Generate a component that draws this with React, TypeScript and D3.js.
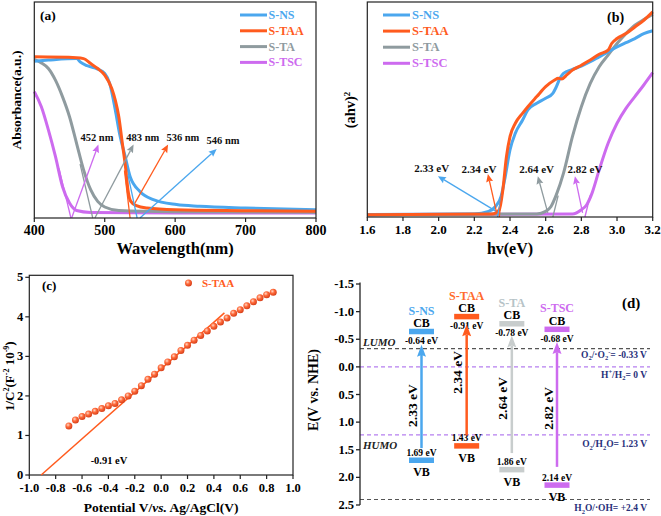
import React from 'react';
import * as d3 from 'd3';

type P = [number, number];

const FONT = "'Liberation Serif', 'Times New Roman', serif";
const SERIES = ['S-NS', 'S-TAA', 'S-TA', 'S-TSC'];
const COLORS = ['#4ba7ee', '#ff5b1e', '#8f9b9f', '#cd6bef'];

// ---------- (a) UV-vis absorbance ----------
const absNS: P[] = [[400, 72.6], [420, 73.1], [460, 73.8], [465, 72.3], [475, 70.5], [490, 68.9], [500, 66.9], [507, 62.3], [515, 50], [521, 39.2], [529, 28.5], [536, 19.2], [550, 12.3], [569, 8.5], [602, 6.2], [635, 5.4], [700, 4.6], [800, 3.8]];
const absTAA: P[] = [[400, 74.6], [460, 74.2], [470, 73.8], [480, 71.5], [490, 69.2], [500, 66.2], [510, 60], [515, 54.6], [520, 46.9], [525, 34.6], [530, 22.3], [533, 13], [537, 7.7], [545, 5.7], [560, 4.6], [600, 3.8], [700, 3.4], [800, 3.1]];
const absTA: P[] = [[400, 73.4], [410, 71.8], [420, 69.2], [430, 63.8], [440, 56.2], [450, 46.9], [460, 34.6], [470, 22.3], [480, 13.1], [490, 7.7], [500, 5.1], [520, 3.5], [600, 2.9], [800, 2.6]];
const absTSC: P[] = [[400, 58.5], [410, 51.5], [420, 40.8], [430, 28.5], [440, 14.6], [450, 6.9], [460, 3.5], [480, 2.6], [600, 2.3], [800, 2.3]];
const absSeries = [absNS, absTAA, absTA, absTSC];
const absEdgeLabels = ['546 nm', '536 nm', '483 nm', '452 nm'];
const absEdges = [546, 536, 483, 452];
const absTangentTop: P[] = [[533, 20], [528, 22], [465, 25], [435, 23]];
const absArrowFrom: P[] = [[550, 0], [543, 7], [486, 0], [453, 0]];
const absArrowTo: P[] = [[659, 32], [590, 34], [541, 34], [491, 34]];
const absLabelAt: P[] = [[668, 36], [611, 37.5], [554, 37.5], [489, 37.5]];
const absTicks = [400, 500, 600, 700, 800];

// ---------- (b) Tauc plot ----------
const taucNS: P[] = [[1.6, 1.1], [2.2, 1.4], [2.28, 2.6], [2.32, 5], [2.35, 9.6], [2.37, 17.3], [2.4, 31.2], [2.43, 39], [2.47, 45], [2.5, 49.8], [2.55, 52.9], [2.6, 55.2], [2.64, 57.5], [2.66, 60.6], [2.68, 64.5], [2.7, 66.8], [2.75, 68.6], [2.8, 70.2], [2.85, 72.2], [2.9, 74.5], [2.95, 76.8], [3.0, 79.1], [3.05, 81.1], [3.1, 83], [3.15, 85.3], [3.2, 86.6]];
const taucTAA: P[] = [[1.6, 1.1], [2.3, 1.4], [2.34, 3.4], [2.36, 12.7], [2.38, 28], [2.4, 37.4], [2.43, 43.6], [2.47, 48.2], [2.5, 51.3], [2.55, 56], [2.6, 60.6], [2.65, 63.7], [2.67, 64.5], [2.69, 64.2], [2.72, 66.2], [2.75, 68.3], [2.8, 70.6], [2.85, 73], [2.9, 75.7], [2.95, 77.6], [2.97, 80.7], [3.0, 83], [3.05, 85.3], [3.1, 88.4], [3.15, 91.5], [3.2, 95.4]];
const taucTA: P[] = [[1.6, 1.1], [2.55, 1.4], [2.6, 2.6], [2.63, 4.9], [2.66, 10.4], [2.7, 20.4], [2.75, 37.4], [2.8, 51.3], [2.85, 62.1], [2.9, 69.9], [2.95, 75.3], [3.0, 80.7], [3.05, 85.3], [3.1, 89.2], [3.15, 91.8], [3.2, 94.3]];
const taucTSC: P[] = [[1.6, 1.1], [2.75, 1.4], [2.8, 3.4], [2.83, 5.7], [2.86, 11.1], [2.9, 21.9], [2.95, 34.3], [3.0, 43.6], [3.05, 50.5], [3.1, 56], [3.15, 61.4], [3.2, 67.1]];
const taucSeries = [taucNS, taucTAA, taucTA, taucTSC];
const gapLabels = ['2.33 eV', '2.34 eV', '2.64 eV', '2.82 eV'];
const gapEdges = [2.33, 2.34, 2.64, 2.82];
const gapTangentTop: P[] = [[2.352, 10], [2.353, 10], [2.67, 10], [2.85, 10]];
const gapArrowFrom: P[] = [[2.325, 2.5], [2.325, 1.9], [2.612, 1.9], [2.807, 1.9]];
const gapArrowTo: P[] = [[1.996, 19], [2.276, 20], [2.556, 19], [2.764, 19]];
const gapLabelAt: P[] = [[1.961, 22.8], [2.226, 22.3], [2.549, 22.3], [2.82, 22.3]];
const taucTicks = [1.6, 1.8, 2.0, 2.2, 2.4, 2.6, 2.8, 3.0, 3.2];

// ---------- (c) Mott-Schottky ----------
const potentials = [-0.7, -0.65, -0.6, -0.55, -0.5, -0.45, -0.4, -0.35, -0.3, -0.25, -0.2, -0.15, -0.1, -0.05, 0, 0.05, 0.1, 0.15, 0.2, 0.25, 0.3, 0.35, 0.4, 0.45, 0.5, 0.55, 0.6, 0.65, 0.7, 0.75, 0.8, 0.85];
const invC2 = [1.24, 1.39, 1.48, 1.54, 1.61, 1.68, 1.75, 1.81, 1.9, 2.0, 2.12, 2.26, 2.42, 2.55, 2.71, 2.86, 2.99, 3.15, 3.28, 3.41, 3.53, 3.64, 3.76, 3.87, 3.97, 4.09, 4.18, 4.28, 4.38, 4.48, 4.56, 4.62];
const fitLine: P[] = [[-0.91, 0], [0.48, 4.1]];
const msXTicks = [-1.0, -0.8, -0.6, -0.4, -0.2, 0.0, 0.2, 0.4, 0.6, 0.8, 1.0];
const msYTicks = [0, 1, 2, 3, 4, 5];

// ---------- (d) band structure ----------
const cbValues = [-0.64, -0.91, -0.78, -0.68];
const vbValues = [1.69, 1.43, 1.86, 2.14];
const bandArrowFrom = [1.47, 1.24, 1.56, 1.81];
const bandArrowTo = [-0.4, -0.77, -0.57, -0.45];
const bandGapLabelAt = [0.7, 0.1, 0.57, 0.75];
const bandTicks = [-1.5, -1.0, -0.5, 0.0, 0.5, 1.0, 1.5, 2.0, 2.5];
const bandColors = ['#4ba7ee', '#ff5b1e', '#c8cdcd', '#cd6bef'];
const bandNameColors = ['#4ba7ee', '#ff6a2c', '#b6c3c7', '#cd6bef'];
const redoxLevels = [-0.33, 0, 1.23, 2.4];
const redoxColors = ['#555555', '#b57ff0', '#b57ff0', '#555555'];

function Arrow({ x1, y1, x2, y2, color, w, hl, hw }: { x1: number; y1: number; x2: number; y2: number; color: string; w: number; hl: number; hw: number }) {
  const dx = x2 - x1, dy = y2 - y1;
  const len = Math.sqrt(dx * dx + dy * dy);
  const ux = dx / len, uy = dy / len;
  const bx = x2 - ux * hl * 0.85, by = y2 - uy * hl * 0.85;
  const hx = x2 - ux * hl, hy = y2 - uy * hl;
  const px = -uy, py = ux;
  const pts = [[x2, y2], [hx + px * hw / 2, hy + py * hw / 2], [bx, by], [hx - px * hw / 2, hy - py * hw / 2]];
  return (
    <g>
      <line x1={x1} y1={y1} x2={bx} y2={by} stroke={color} strokeWidth={w} />
      <polygon points={pts.map(p => p.join(',')).join(' ')} fill={color} />
    </g>
  );
}

function PanelA() {
  const x = d3.scaleLinear().domain([400, 800]).range([34.3, 316]);
  const y = d3.scaleLinear().domain([0, 100]).range([218, 2]);
  const line = d3.line<P>().x(d => x(d[0])).y(d => y(d[1])).curve(d3.curveMonotoneX);
  const order = [3, 2, 0, 1];
  return (
    <g>
      {order.map(i => (
        <path key={i} d={line(absSeries[i]) || ''} fill="none" stroke={COLORS[i]} strokeWidth={3} />
      ))}
      {absEdges.map((e, i) => (
        <line key={'t' + i} x1={x(e)} y1={y(0)} x2={x(absTangentTop[i][0])} y2={y(absTangentTop[i][1])} stroke={COLORS[i]} strokeWidth={1.3} />
      ))}
      {absEdges.map((e, i) => (
        <Arrow key={'a' + i} x1={x(absArrowFrom[i][0])} y1={y(absArrowFrom[i][1])} x2={x(absArrowTo[i][0])} y2={y(absArrowTo[i][1])} color={COLORS[i]} w={1.3} hl={8} hw={7} />
      ))}
      {absEdgeLabels.map((t, i) => (
        <text key={'l' + i} x={x(absLabelAt[i][0])} y={y(absLabelAt[i][1])} textAnchor="middle" dominantBaseline="central" fontSize={10.5} fontWeight="bold" fill="#111">{t}</text>
      ))}
      <rect x={x(400)} y={y(100)} width={x(800) - x(400)} height={y(0) - y(100)} fill="none" stroke="#222" strokeWidth={1.2} />
      {absTicks.map(t => (
        <g key={t}>
          <line x1={x(t)} x2={x(t)} y1={y(0)} y2={y(0) + 4} stroke="#222" strokeWidth={1.2} />
          <text x={x(t)} y={y(0) + 17} textAnchor="middle" fontSize={14} fontWeight="bold">{t}</text>
        </g>
      ))}
      <text x={(x(400) + x(800)) / 2} y={254} textAnchor="middle" fontSize={16.5} fontWeight="bold">Wavelength(nm)</text>
      <text transform={`translate(21,${(y(0) + y(100)) / 2 - 10}) rotate(-90)`} textAnchor="middle" fontSize={13.5} fontWeight="bold">Absorbance(a.u.)</text>
      <text x={40} y={20} fontSize={13.5} fontWeight="bold">(a)</text>
      {SERIES.map((s, i) => (
        <g key={s}>
          <line x1={240} x2={267} y1={15 + i * 15.8} y2={15 + i * 15.8} stroke={COLORS[i]} strokeWidth={3} />
          <text x={268.5} y={15 + i * 15.8} dominantBaseline="central" fontSize={12} fontWeight="bold" fill={COLORS[i]}>{s}</text>
        </g>
      ))}
    </g>
  );
}

function PanelB() {
  const x = d3.scaleLinear().domain([1.6, 3.2]).range([367.3, 652.7]);
  const y = d3.scaleLinear().domain([0, 100]).range([217, 2]);
  const line = d3.line<P>().x(d => x(d[0])).y(d => y(d[1])).curve(d3.curveMonotoneX);
  const order = [3, 2, 0, 1];
  return (
    <g>
      {order.map(i => (
        <path key={i} d={line(taucSeries[i]) || ''} fill="none" stroke={COLORS[i]} strokeWidth={3} />
      ))}
      {gapEdges.map((e, i) => (
        <line key={'t' + i} x1={x(e)} y1={y(0)} x2={x(gapTangentTop[i][0])} y2={y(gapTangentTop[i][1])} stroke={COLORS[i]} strokeWidth={1.3} />
      ))}
      {gapEdges.map((e, i) => (
        <Arrow key={'a' + i} x1={x(gapArrowFrom[i][0])} y1={y(gapArrowFrom[i][1])} x2={x(gapArrowTo[i][0])} y2={y(gapArrowTo[i][1])} color={COLORS[i]} w={1.3} hl={8} hw={7} />
      ))}
      {gapLabels.map((t, i) => (
        <text key={'l' + i} x={x(gapLabelAt[i][0])} y={y(gapLabelAt[i][1])} textAnchor="middle" dominantBaseline="central" fontSize={11} fontWeight="bold" fill="#111">{t}</text>
      ))}
      <rect x={x(1.6)} y={y(100)} width={x(3.2) - x(1.6)} height={y(0) - y(100)} fill="none" stroke="#222" strokeWidth={1.2} />
      {taucTicks.map(t => (
        <g key={t}>
          <line x1={x(t)} x2={x(t)} y1={y(0)} y2={y(0) + 4} stroke="#222" strokeWidth={1.2} />
          <text x={x(t)} y={y(0) + 17} textAnchor="middle" fontSize={13} fontWeight="bold">{t.toFixed(1)}</text>
        </g>
      ))}
      <text x={(x(1.6) + x(3.2)) / 2} y={254} textAnchor="middle" fontSize={16} fontWeight="bold">hv(eV)</text>
      <text transform={`translate(355,110) rotate(-90)`} textAnchor="middle" fontSize={14.5} fontWeight="bold">(ahv)<tspan dy={-5} fontSize={9}>2</tspan></text>
      <text x={607} y={22} fontSize={14} fontWeight="bold">(b)</text>
      {SERIES.map((s, i) => (
        <g key={s}>
          <line x1={383} x2={410} y1={15 + i * 16.1} y2={15 + i * 16.1} stroke={COLORS[i]} strokeWidth={3} />
          <text x={412} y={15 + i * 16.1} dominantBaseline="central" fontSize={12.5} fontWeight="bold" fill={COLORS[i]}>{s}</text>
        </g>
      ))}
    </g>
  );
}

function PanelC() {
  const x = d3.scaleLinear().domain([-1, 1]).range([29.3, 293]);
  const y = d3.scaleLinear().domain([0, 5]).range([475, 277.3]);
  const line = d3.line<P>().x(d => x(d[0])).y(d => y(d[1]));
  return (
    <g>
      <rect x={x(-1)} y={y(5) - 2} width={x(1) - x(-1)} height={y(0) - y(5) + 2} fill="none" stroke="#222" strokeWidth={1.2} />
      <path d={line(fitLine) || ''} stroke="#ff5b1e" strokeWidth={1.5} fill="none" />
      {potentials.map((p, i) => (
        <circle key={i} cx={x(p)} cy={y(invC2[i])} r={3.5} fill="url(#ballGrad)" />
      ))}
      {msXTicks.map(t => (
        <g key={t}>
          <line x1={x(t)} x2={x(t)} y1={y(0)} y2={y(0) + 4} stroke="#222" strokeWidth={1.2} />
          <text x={x(t)} y={y(0) + 17} textAnchor="middle" fontSize={12.5} fontWeight="bold">{t.toFixed(1)}</text>
        </g>
      ))}
      {msYTicks.map(t => (
        <g key={t}>
          <line x1={x(-1) - 4} x2={x(-1)} y1={y(t)} y2={y(t)} stroke="#222" strokeWidth={1.2} />
          <text x={x(-1) - 6} y={y(t)} textAnchor="end" dominantBaseline="central" fontSize={12.5} fontWeight="bold">{t}</text>
        </g>
      ))}
      <text x={(x(-1) + x(1)) / 2} y={512} textAnchor="middle" fontSize={13.5} fontWeight="bold">
        Potential V/<tspan fontStyle="italic">vs.</tspan> Ag/AgCl(V)
      </text>
      <text transform={`translate(14,${(y(0) + y(5)) / 2}) rotate(-90)`} textAnchor="middle" fontSize={13} fontWeight="bold">
        1/C<tspan dy={-5} fontSize={8}>2</tspan><tspan dy={5}>(F</tspan><tspan dy={-5} fontSize={8}>-2</tspan><tspan dy={5}> 10</tspan><tspan dy={-5} fontSize={8}>-9</tspan><tspan dy={5}>)</tspan>
      </text>
      <text x={42} y={290} fontSize={13} fontWeight="bold">(c)</text>
      <circle cx={188.5} cy={283} r={3.5} fill="url(#ballGrad)" />
      <text x={202} y={283} dominantBaseline="central" fontSize={11} fontWeight="bold" fill="#ff5b1e">S-TAA</text>
      <text x={109} y={460} textAnchor="middle" dominantBaseline="central" fontSize={10.5} fontWeight="bold">-0.91 eV</text>
    </g>
  );
}

function Sub({ children }: { children: React.ReactNode }) {
  return <tspan dy={2.5} fontSize={6.5}>{children}</tspan>;
}

function PanelD() {
  const y = d3.scaleLinear().domain([-1.5, 2.5]).range([284, 505]);
  const x = d3.scalePoint<string>().domain(SERIES).range([421.5, 557]);
  const axisX = 360;
  const rightX = 647;
  const bw = 25, bh = 5.5;
  const redoxLabels = [
    <>O<Sub>2</Sub><tspan dy={-2.5}>/·O</tspan><Sub>2</Sub><tspan dy={-6} fontSize={6.5}>-</tspan><tspan dy={3.5}>= -0.33 V</tspan></>,
    <>H<tspan dy={-4} fontSize={6.5}>+</tspan><tspan dy={4}>/H</tspan><Sub>2</Sub><tspan dy={-2.5}>= 0 V</tspan></>,
    <>O<Sub>2</Sub><tspan dy={-2.5}>/H</tspan><Sub>2</Sub><tspan dy={-2.5}>O= 1.23 V</tspan></>,
    <>H<Sub>2</Sub><tspan dy={-2.5}>O/·OH= +2.4 V</tspan></>,
  ];
  const redoxLabelDy = [6, 8, 9.5, 9];
  return (
    <g>
      {redoxLevels.map((v, i) => (
        <g key={i}>
          <line x1={axisX} x2={650} y1={y(v)} y2={y(v)} stroke={redoxColors[i]} strokeWidth={1.2} strokeDasharray="4,3" />
          <text x={rightX} y={y(v) + redoxLabelDy[i]} textAnchor="end" dominantBaseline="central" fontSize={9.5} fontWeight="bold" fill="#28307a">{redoxLabels[i]}</text>
        </g>
      ))}
      <text x={363} y={y(-0.33) - 6.5} dominantBaseline="central" fontSize={11} fontStyle="italic" fontWeight="bold" fill="#222">LUMO</text>
      <text x={363} y={y(1.23) + 10.5} dominantBaseline="central" fontSize={11} fontStyle="italic" fontWeight="bold" fill="#222">HUMO</text>
      <line x1={axisX} x2={axisX} y1={y(-1.5) - 1.5} y2={y(2.5)} stroke="#222" strokeWidth={1.3} />
      {bandTicks.map(t => (
        <g key={t}>
          <line x1={axisX - 4} x2={axisX} y1={y(t)} y2={y(t)} stroke="#222" strokeWidth={1.3} />
          <text x={axisX - 6} y={y(t)} textAnchor="end" dominantBaseline="central" fontSize={12.5} fontWeight="bold">{t.toFixed(1)}</text>
        </g>
      ))}
      <text transform={`translate(318,390) rotate(-90)`} textAnchor="middle" fontSize={14} fontWeight="bold">E(V vs. NHE)</text>
      <text x={622} y={308} fontSize={15} fontWeight="bold">(d)</text>
      {SERIES.map((s, i) => {
        const cx = x(s) as number;
        return (
          <g key={s}>
            <rect x={cx - bw / 2} y={y(cbValues[i]) - bh / 2} width={bw} height={bh} fill={bandColors[i]} />
            <rect x={cx - bw / 2} y={y(vbValues[i]) - bh / 2} width={bw} height={bh} fill={bandColors[i]} />
            <text x={cx} y={y(cbValues[i]) - 21} textAnchor="middle" dominantBaseline="central" fontSize={12} fontWeight="bold" fill={bandNameColors[i]}>{s}</text>
            <text x={cx} y={y(cbValues[i]) - 8.5} textAnchor="middle" dominantBaseline="central" fontSize={12} fontWeight="bold">CB</text>
            <text x={cx} y={y(cbValues[i]) + 9.5} textAnchor="middle" dominantBaseline="central" fontSize={9.5} fontWeight="bold">{cbValues[i].toFixed(2)} eV</text>
            <text x={cx} y={y(vbValues[i]) - 7.5} textAnchor="middle" dominantBaseline="central" fontSize={9.5} fontWeight="bold">{vbValues[i].toFixed(2)} eV</text>
            <text x={cx} y={y(vbValues[i]) + 12} textAnchor="middle" dominantBaseline="central" fontSize={12} fontWeight="bold">VB</text>
            <Arrow x1={cx} y1={y(bandArrowFrom[i])} x2={cx} y2={y(bandArrowTo[i])} color={bandColors[i]} w={2.5} hl={12} hw={9} />
            <text transform={`translate(${cx - 9},${y(bandGapLabelAt[i])}) rotate(-90)`} textAnchor="middle" dominantBaseline="central" fontSize={13.5} fontWeight="bold">{gapLabels[i]}</text>
          </g>
        );
      })}
    </g>
  );
}

export default function App() {
  return (
    <svg width={661} height={516} style={{ position: 'absolute', left: 0, top: 0, background: '#fff' }} fontFamily={FONT}>
      <defs>
        <radialGradient id="ballGrad" cx="38%" cy="35%" r="65%">
          <stop offset="0%" stopColor="#ffd9c8" />
          <stop offset="45%" stopColor="#ff6a3a" />
          <stop offset="100%" stopColor="#d8401a" />
        </radialGradient>
      </defs>
      <rect width={661} height={516} fill="#fff" />
      <PanelA />
      <PanelB />
      <PanelC />
      <PanelD />
    </svg>
  );
}
